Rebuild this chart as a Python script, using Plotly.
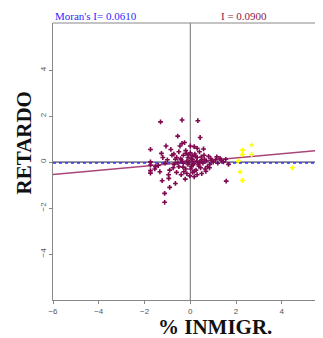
import plotly.graph_objects as go

# Purple observations (% INMIGR. standardized, spatial lag)
x_main = [-1.30, -0.36, 0.33, -0.55, 0.43, -1.06, -0.36, 0.17, 0.58, -1.74, -1.26, -0.72,
          1.16, 1.30, 0.94, 1.45, 1.67, 0.84, -1.74, -1.74, -1.52, -1.74, -1.74, -1.33,
          -1.23, -0.90, -1.12, -1.12, -0.65, -0.94, -0.22, 0.17, 1.57,
          -0.80, -0.60, -0.50, -0.40, -0.30, -0.20, -0.10, 0.00, 0.10, 0.20, 0.30, 0.40,
          0.50, 0.60, 0.70, -0.70, -0.50, -0.30, -0.20, -0.10, 0.05, 0.15, 0.25, 0.35,
          0.45, 0.55, 0.65, -0.90, -0.60, -0.40, -0.15, 0.10, 0.30, 0.50, -1.00, -1.10,
          -1.20, -0.85, -0.45, 0.00, -0.25, 0.30, 0.80, 0.90, 1.00, 1.10, 0.85, 0.75,
          1.20, -0.05, 0.05, -0.15, 0.12, 0.22, -0.32, -0.42, 0.38, 0.48, -0.55, -0.65,
          0.02, -0.08, 0.18, 0.28, -0.18, -0.28, 0.62, -0.75, 1.35, 1.55, -1.40, -1.55,
          -0.95, 0.68, 0.42, -0.35, 0.08, -0.02]
y_main = [1.75, 1.83, 1.80, 1.13, 1.07, 0.70, 0.81, 0.67, 0.57, 0.55, 0.38, 0.35,
          0.23, 0.16, 0.06, 0.01, -0.10, -0.25, 0.01, -0.13, -0.20, -0.37, -0.48, -0.42,
          -0.81, -1.10, -1.36, -1.75, -0.93, -0.71, -0.74, -0.64, -0.83,
          0.30, 0.20, 0.45, 0.10, 0.30, 0.50, 0.20, 0.40, 0.10, 0.35, 0.20, 0.45,
          0.10, 0.30, 0.05, -0.10, -0.20, -0.05, -0.30, -0.10, -0.20, -0.05, -0.35, -0.10,
          -0.25, -0.05, -0.30, -0.35, -0.45, -0.55, -0.50, -0.45, -0.55, -0.50, 0.10, -0.05,
          0.20, 0.55, 0.70, 0.70, 0.85, 0.60, 0.25, 0.15, 0.00, 0.10, -0.10, -0.20,
          -0.05, 0.00, 0.15, 0.05, -0.12, 0.25, -0.22, 0.15, -0.18, 0.22, -0.02, 0.12,
          -0.30, 0.32, -0.40, 0.05, 0.38, -0.42, 0.12, -0.25, 0.08, 0.12, -0.15, -0.30,
          -0.55, -0.40, 0.00, 0.02, 0.28, -0.60]

# Yellow observations
x_yel = [2.28, 2.68, 2.28, 2.68, 2.10, 2.17, 2.28, 4.46]
y_yel = [0.52, 0.74, 0.33, 0.33, 0.04, -0.42, -0.80, -0.25]

moran_text = "Moran's I= 0.0610"
i_text = "I = 0.0900"
x_title = "% INMIGR."
y_title = "RETARDO"
slope = 0.09
x_range = [-6, 5.8]
y_range = [-6, 6.05]
x_ticks = [-6, -4, -2, 0, 2, 4]
y_ticks = [-4, -2, 0, 2, 4]

fig = go.Figure()

# regression line
fig.add_trace(go.Scatter(x=x_range, y=[slope * v for v in x_range], mode="lines",
                         line=dict(color="#a8467a", width=1.5), hoverinfo="skip"))
# horizontal zero line and blue dotted line
fig.add_trace(go.Scatter(x=x_range, y=[0, 0], mode="lines",
                         line=dict(color="#202040", width=1), hoverinfo="skip"))
fig.add_trace(go.Scatter(x=x_range, y=[-0.04, -0.04], mode="lines",
                         line=dict(color="#3030ff", width=1.5, dash="dot"), hoverinfo="skip"))
# vertical zero line
fig.add_trace(go.Scatter(x=[0, 0], y=y_range, mode="lines",
                         line=dict(color="#707070", width=1), hoverinfo="skip"))

fig.add_trace(go.Scatter(x=x_main, y=y_main, mode="markers",
                         marker=dict(symbol="cross", size=4, color="#800a50",
                                     line=dict(width=0))))
fig.add_trace(go.Scatter(x=x_yel, y=y_yel, mode="markers",
                         marker=dict(symbol="cross", size=4, color="#ffff00",
                                     line=dict(width=0))))

# page body has an 8px default margin: size figure so it ends at the window edge
fig.update_layout(
    width=315, height=330,
    margin=dict(l=45, r=0, t=15, b=38, autoexpand=False),
    plot_bgcolor="white", paper_bgcolor="white",
    showlegend=False,
    xaxis=dict(range=x_range, tickvals=x_ticks, ticks="outside", ticklen=3,
               tickcolor="#888", showgrid=False, zeroline=False, automargin=False,
               showline=True, linecolor="#888", linewidth=1,
               tickfont=dict(family="Liberation Sans", size=8, color="#555")),
    yaxis=dict(range=y_range, tickvals=y_ticks, ticks="outside", ticklen=3,
               tickcolor="#888", showgrid=False, zeroline=False, tickangle=-90,
               showline=True, linecolor="#888", linewidth=1, automargin=False,
               tickfont=dict(family="Liberation Sans", size=8, color="#555")),
    shapes=[dict(type="line", xref="paper", yref="paper", x0=0, x1=1, y0=1, y1=1,
                 line=dict(color="#888", width=1))],
    annotations=[
        dict(text=moran_text, xref="paper", yref="paper", x=0, y=1, xanchor="left",
             yanchor="middle", yshift=7, showarrow=False,
             font=dict(family="Liberation Serif", size=11, color="#2a2aff")),
        dict(text=i_text, xref="paper", yref="paper", x=0.615, y=1, xanchor="left",
             yanchor="middle", yshift=7, showarrow=False,
             font=dict(family="Liberation Serif", size=11, color="#8a1a4a")),
        dict(text="<b>" + x_title + "</b>", xref="paper", yref="paper", x=0.6, y=0,
             xanchor="center", yanchor="top", yshift=-13, showarrow=False,
             font=dict(family="Liberation Serif", size=21, color="#111")),
        dict(text="<b>" + y_title + "</b>", xref="paper", yref="paper", x=0, y=0.565,
             xanchor="center", yanchor="middle", xshift=-29, textangle=-90, showarrow=False,
             font=dict(family="Liberation Serif", size=21, color="#111")),
    ],
)

fig.write_html("out.html")
